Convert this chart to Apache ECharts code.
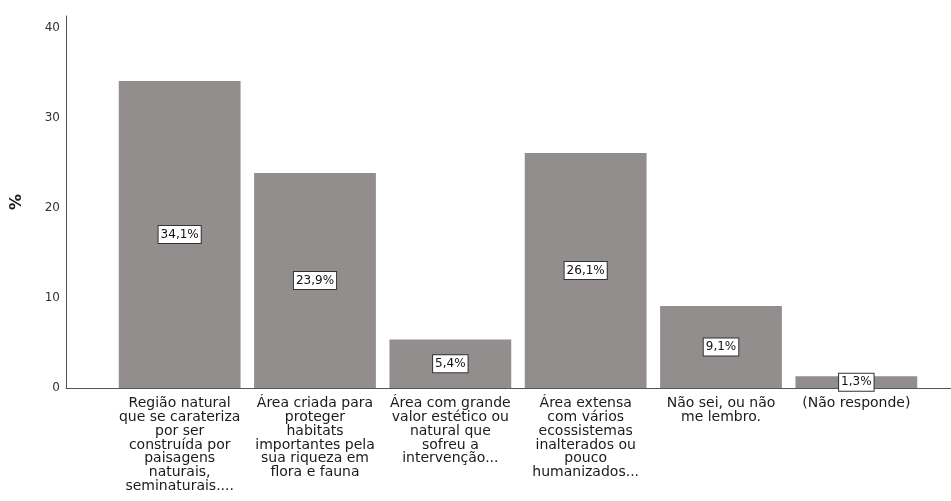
<!DOCTYPE html>
<html>
<head>
<meta charset="utf-8">
<script src="https://cdn.jsdelivr.net/npm/echarts@6/dist/echarts.min.js"></script>
<style>
html, body { margin: 0; padding: 0; background: #fff; }
#main { width: 951px; height: 501px; }
</style>
</head>
<body>
<div id="main"></div>
<script>
//categorias (quebras de linha como no original)
var categorias = [
	'Região natural\nque se carateriza\npor ser\nconstruída por\npaisagens\nnaturais,\nseminaturais....',
	'Área criada para\nproteger\nhabitats\nimportantes pela\nsua riqueza em\nflora e fauna',
	'Área com grande\nvalor estético ou\nnatural que\nsofreu a\nintervenção...',
	'Área extensa\ncom vários\necossistemas\ninalterados ou\npouco\nhumanizados...',
	'Não sei, ou não\nme lembro.',
	'(Não responde)'
];
//percentagens
var valores = [34.1, 23.9, 5.4, 26.1, 9.1, 1.3];
var yTicks = [0, 10, 20, 30, 40];

var yMax = 41.33;
var fonte = 'DejaVu Sans';

var option = {
	backgroundColor: '#fff',
	animation: false,
	grid: [{
		left: 66, right: 0, top: 16, bottom: 113
	}, {
		left: 112, right: 27, top: 16, bottom: 113
	}],
	xAxis: [{
		type: 'category',
		gridIndex: 0,
		data: [''],
		axisLine: { show: true, lineStyle: { color: '#555', width: 1 } },
		axisTick: { show: false },
		axisLabel: { show: false }
	}, {
		type: 'category',
		gridIndex: 1,
		data: categorias,
		axisLine: { show: false },
		axisTick: { show: false },
		axisLabel: {
			interval: 0,
			margin: 9,
			color: '#1a1a1a',
			fontFamily: fonte,
			fontSize: 14,
			lineHeight: 13.7,
			align: 'center',
			verticalAlign: 'top'
		}
	}],
	yAxis: [{
		type: 'value',
		gridIndex: 0,
		min: 0,
		max: yMax,
		interval: 10,
		name: '%',
		nameLocation: 'middle',
		nameRotate: 90,
		nameGap: 41,
		nameTextStyle: { fontFamily: fonte, fontSize: 16, fontWeight: 'bold', color: '#1a1a1a' },
		axisLine: { show: true, lineStyle: { color: '#555', width: 1 } },
		axisTick: { show: false },
		splitLine: { show: false },
		axisLabel: {
			margin: 6,
			color: '#333',
			fontFamily: fonte,
			fontSize: 12,
			formatter: function (v) {
				return yTicks.indexOf(v) >= 0 ? String(v) : '';
			}
		}
	}, {
		type: 'value',
		gridIndex: 1,
		min: 0,
		max: yMax,
		show: false
	}],
	series: [{
		type: 'bar',
		xAxisIndex: 1,
		yAxisIndex: 1,
		barCategoryGap: '10%',
		itemStyle: { color: '#928e8d' },
		label: {
			show: true,
			position: 'inside',
			color: '#111',
			fontFamily: fonte,
			fontSize: 12,
			backgroundColor: '#fff',
			borderColor: '#333',
			borderWidth: 1,
			padding: [3, 2, 2, 2],
			formatter: function (p) {
				return p.value.toFixed(1).replace('.', ',') + '%';
			}
		},
		data: valores
	}]
};

echarts.init(document.getElementById('main')).setOption(option);
</script>
</body>
</html>
